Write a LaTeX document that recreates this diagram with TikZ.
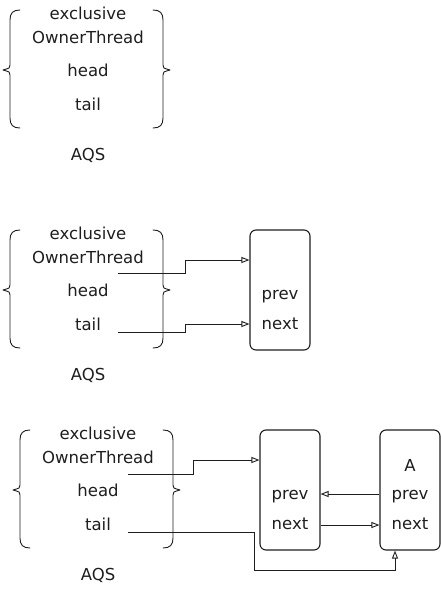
\documentclass[tikz,border=0pt]{standalone}
\usepackage{fontspec}
\setmainfont{DejaVu Sans}
\usetikzlibrary{arrows.meta}
\definecolor{ink}{HTML}{1E1E1E}
\tikzset{
  lbl/.style={font=\fontsize{16.5}{18}\selectfont, text=ink, inner sep=0pt, anchor=center},
  conn/.style={draw=ink, line width=0.9pt, -{Triangle[open,length=8pt,width=6pt]}},
  brace/.style={draw=ink, line width=0.9pt, line join=round, line cap=round},
  nodebox/.style={draw=ink, line width=1.1pt, rounded corners=6pt, minimum width=60pt, minimum height=120pt, inner sep=0pt},
}
\newcommand{\aqsbraces}[3]{% #1 left x, #2 right x, #3 top y
  \draw[brace] (#1+10,#3) .. controls (#1+3,#3) and (#1,#3+3) .. (#1,#3+10) -- (#1,#3+55)
     .. controls (#1,#3+58) .. (#1-7,#3+60) .. controls (#1,#3+62) .. (#1,#3+65) -- (#1,#3+108)
     .. controls (#1,#3+115) and (#1+3,#3+118) .. (#1+10,#3+118);
  \draw[brace] (#2-10,#3) .. controls (#2-3,#3) and (#2,#3+3) .. (#2,#3+10) -- (#2,#3+55)
     .. controls (#2,#3+58) .. (#2+7,#3+60) .. controls (#2,#3+62) .. (#2,#3+65) -- (#2,#3+108)
     .. controls (#2,#3+115) and (#2-3,#3+118) .. (#2-10,#3+118);
}
\begin{document}
\begin{tikzpicture}[x=1pt,y=-1pt]
\useasboundingbox (0,0) rectangle (441,590);
% ---------- diagram 1
\aqsbraces{10}{163}{10}
\node[lbl] (e1) at (88,13) {exclusive};
\node[lbl] (o1) at (88,37) {OwnerThread};
\node[lbl] (h1) at (88,70) {head};
\node[lbl] (t1) at (88,104) {tail};
\node[lbl] (q1) at (88,155) {AQS};
% ---------- diagram 2
\aqsbraces{10}{163}{230}
\node[lbl] (e2) at (88,233) {exclusive};
\node[lbl] (o2) at (88,257) {OwnerThread};
\node[lbl] (h2) at (88,290) {head};
\node[lbl] (t2) at (88,324) {tail};
\node[lbl] (q2) at (88,375) {AQS};
\node[nodebox] (n2) at (280,290) {};
\node[lbl] (p2) at (280,297) {prev};
\node[lbl] (x2) at (280,324) {next};
\coordinate (hs2) at (118,273);
\coordinate (ts2) at (118,332);
\draw[conn] (hs2) -- (185,273) -- (185,260) -- (n2.west |- 0,260);
\draw[conn] (ts2) -- (185,332) -- (185,324) -- (n2.west |- 0,324);
% ---------- diagram 3
\aqsbraces{20}{173}{430}
\node[lbl] (e3) at (98,433) {exclusive};
\node[lbl] (o3) at (98,457) {OwnerThread};
\node[lbl] (h3) at (98,490) {head};
\node[lbl] (t3) at (98,524) {tail};
\node[lbl] (q3) at (98,575) {AQS};
\node[nodebox] (n3) at (290,490) {};
\node[lbl] (p3) at (290,497) {prev};
\node[lbl] (x3) at (290,524) {next};
\node[nodebox] (m3) at (410,490) {};
\node[lbl] (a3) at (410,465) {A};
\node[lbl] (pm3) at (410,497) {prev};
\node[lbl] (xm3) at (410,524) {next};
\coordinate (hs3) at (128,474);
\coordinate (ts3) at (128,532);
\draw[conn] (hs3) -- (193,474) -- (193,460) -- (n3.west |- 0,460);
\draw[conn] (m3.west |- 0,494) -- (n3.east |- 0,494);
\draw[conn] (n3.east |- 0,525) -- (m3.west |- 0,525);
\draw[conn] (ts3) -- (254,532) -- (254,570) -- (395,570) -- (m3.south -| 395,0);
\end{tikzpicture}
\end{document}
